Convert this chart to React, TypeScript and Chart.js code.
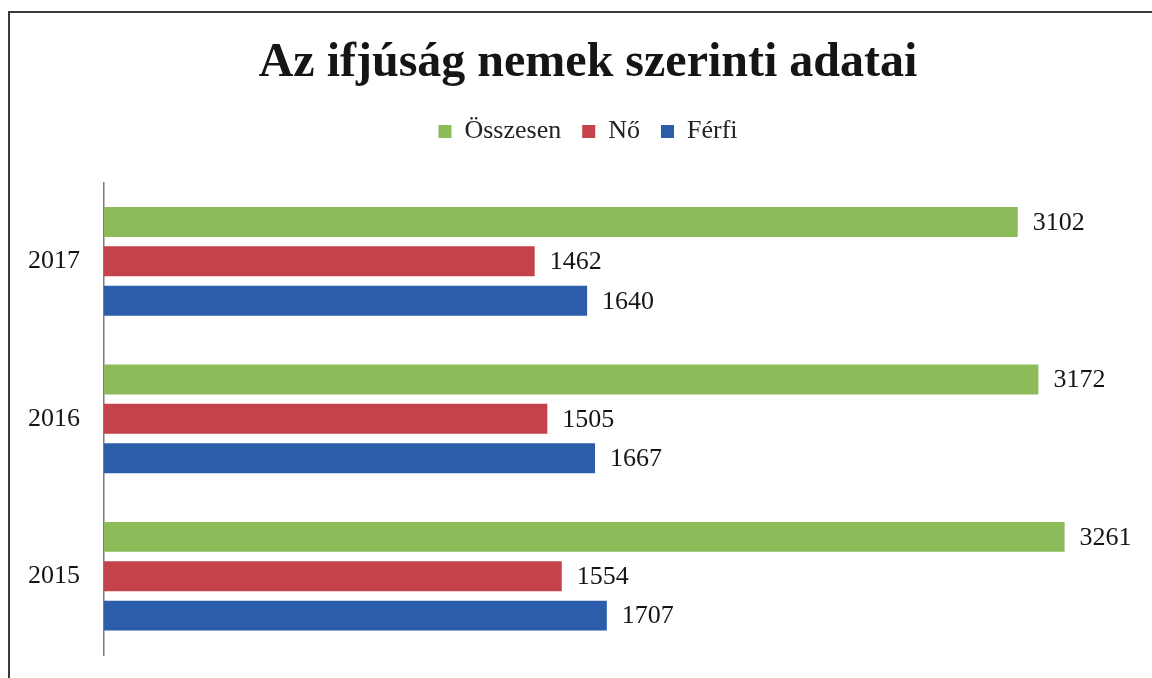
import React, { useEffect, useRef } from "react";
import { Chart, registerables } from "chart.js";

Chart.register(...registerables);

const categories = ["2017", "2016", "2015"];
const seriesNames = ["Összesen", "Nő", "Férfi"];
const osszesen = [3102, 3172, 3261];
const no = [1462, 1505, 1554];
const ferfi = [1640, 1667, 1707];
const titleText = "Az ifjúság nemek szerinti adatai";

const SERIF = "'Liberation Serif', 'Times New Roman', serif";

const framePlugin = {
  id: "frame",
  beforeDraw(chart: any) {
    const ctx = chart.ctx;
    ctx.save();
    ctx.fillStyle = "#ffffff";
    ctx.fillRect(0, 0, chart.width, chart.height);
    ctx.strokeStyle = "#3a3a3a";
    ctx.lineWidth = 2;
    ctx.beginPath();
    ctx.moveTo(9, chart.height);
    ctx.lineTo(9, 12);
    ctx.lineTo(chart.width, 12);
    ctx.stroke();
    ctx.restore();
  },
};

const valueLabelPlugin = {
  id: "valueLabels",
  afterDatasetsDraw(chart: any) {
    const ctx = chart.ctx;
    ctx.save();
    ctx.font = `26px ${SERIF}`;
    ctx.fillStyle = "#151515";
    ctx.textAlign = "left";
    ctx.textBaseline = "middle";
    chart.data.datasets.forEach((ds: any, di: number) => {
      const meta = chart.getDatasetMeta(di);
      meta.data.forEach((el: any, i: number) => {
        ctx.fillText(String(ds.data[i]), el.x + 15, el.y + 1);
      });
    });
    ctx.restore();
  },
};

export default function App() {
  const ref = useRef<HTMLCanvasElement | null>(null);

  useEffect(() => {
    if (!ref.current) return;
    const chart = new Chart(ref.current, {
      type: "bar",
      data: {
        labels: categories,
        datasets: [
          { label: seriesNames[0], data: osszesen, backgroundColor: "#8DBB5A" },
          { label: seriesNames[1], data: no, backgroundColor: "#C4424A" },
          { label: seriesNames[2], data: ferfi, backgroundColor: "#2C5DAA" },
        ],
      },
      options: {
        indexAxis: "y",
        responsive: false,
        animation: false,
        layout: { padding: { left: 24, right: 0, top: 10, bottom: 23 } },
        datasets: {
          bar: { categoryPercentage: 0.75, barPercentage: 0.76 },
        },
        scales: {
          x: {
            position: "top",
            min: 0,
            max: 3500,
            ticks: { display: false },
            grid: { display: false },
            border: { display: false },
            afterFit: (scale: any) => {
              scale.height = 28;
            },
          },
          y: {
            grid: { display: false, drawTicks: false },
            border: { display: true, color: "#7a7a7a", width: 1.5 },
            ticks: {
              padding: 24,
              color: "#151515",
              font: { family: SERIF, size: 26 },
            },
            afterFit: (scale: any) => {
              scale.width = 80;
              scale.paddingTop = 0;
              scale.paddingBottom = 0;
            },
          },
          yRight: {
            type: "category",
            position: "right",
            ticks: { display: false },
            grid: { display: false },
            border: { display: false },
            afterFit: (scale: any) => {
              scale.width = 17;
              scale.paddingTop = 0;
              scale.paddingBottom = 0;
            },
          },
        },
        plugins: {
          title: {
            display: true,
            text: titleText,
            color: "#151515",
            font: { family: SERIF, size: 48, weight: "bold" },
            padding: { top: 25, bottom: 5 },
          },
          legend: {
            display: true,
            position: "top",
            labels: {
              color: "#222",
              font: { family: SERIF, size: 26 },
              boxWidth: 13,
              boxHeight: 13,
              padding: 21,
            },
          },
          tooltip: { enabled: false },
        },
      },
      plugins: [framePlugin, valueLabelPlugin],
    });
    return () => chart.destroy();
  }, []);

  return (
    <div style={{ position: "absolute", left: 0, top: 0, width: 1152, height: 678, overflow: "hidden" }}>
      <canvas ref={ref} width={1152} height={678} style={{ display: "block" }} />
    </div>
  );
}
